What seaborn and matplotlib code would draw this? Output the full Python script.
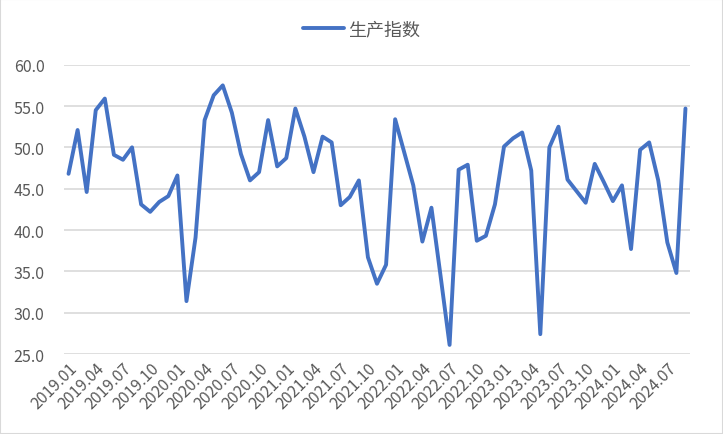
import pandas as pd
import matplotlib.pyplot as plt
import numpy as np
import seaborn as sns
from matplotlib.patches import Rectangle

# monthly categories 2019.01 - 2024.09
months = [p.strftime('%Y.%m') for p in pd.period_range('2019-01', '2024-09', freq='M')]
production_index = [
    46.8, 52.1, 44.6, 54.5, 55.9, 49.1, 48.5, 50.0, 43.1, 42.2, 43.4, 44.1,
    46.6, 31.4, 39.1, 53.3, 56.3, 57.5, 54.2, 49.2, 46.0, 47.0, 53.3, 47.7,
    48.7, 54.7, 51.3, 47.0, 51.3, 50.6, 43.0, 44.0, 46.0, 36.7, 33.5, 35.8,
    53.4, 49.4, 45.4, 38.6, 42.7, 34.5, 26.1, 47.3, 47.9, 38.7, 39.3, 43.1,
    50.1, 51.1, 51.8, 47.2, 27.4, 50.0, 52.5, 46.1, 44.7, 43.3, 48.0, 45.8,
    43.5, 45.4, 37.7, 49.7, 50.6, 46.0, 38.5, 34.8, 54.7,
]
series_name = '生产指数'

df = pd.DataFrame({'month': months, 'value': production_index})
df['pos'] = np.arange(len(df))

sns.set_style('white')
plt.rcParams['font.family'] = ['Noto Sans CJK SC', 'DejaVu Sans']

fig = plt.figure(figsize=(7.23, 4.35), dpi=100)
ax = fig.add_axes([64 / 723, 1 - 355 / 435, (690 - 64) / 723, (355 - 65.7) / 435])

sns.lineplot(data=df, x='pos', y='value', ax=ax, color='#4472C4', linewidth=2.8,
             label=series_name, legend=False)

ax.set_xlim(-0.5, len(df) - 0.5)
ax.set_ylim(25, 60)
ax.set_yticks(np.arange(25, 60.1, 5))
ax.set_yticklabels([f'{v:.1f}' for v in np.arange(25, 60.1, 5)])
tick_pos = df['pos'][::3]
ax.set_xticks(tick_pos)
ax.set_xticklabels(df['month'][::3], rotation=45, ha='right', rotation_mode='anchor')
ax.tick_params(axis='both', length=0, colors='#595959', labelsize=11.5)
ax.tick_params(axis='x', pad=4)
ax.tick_params(axis='y', pad=14)
ax.yaxis.grid(True, color='#D9D9D9', linewidth=1.2)
ax.set_axisbelow(True)
for s in ax.spines.values():
    s.set_visible(False)
ax.set_xlabel('')
ax.set_ylabel('')

handles, labels = ax.get_legend_handles_labels()
fig.legend(handles, labels, loc='center', bbox_to_anchor=(0.5, 1 - 30 / 435),
           frameon=False, fontsize=13, labelcolor='#595959', handlelength=2.3,
           handletextpad=0.2)

fig.patches.append(Rectangle((0, 0), 1, 1, transform=fig.transFigure, fill=False,
                             edgecolor='#D9D9D9', linewidth=1.5))

fig.savefig('out.png', dpi=100)
